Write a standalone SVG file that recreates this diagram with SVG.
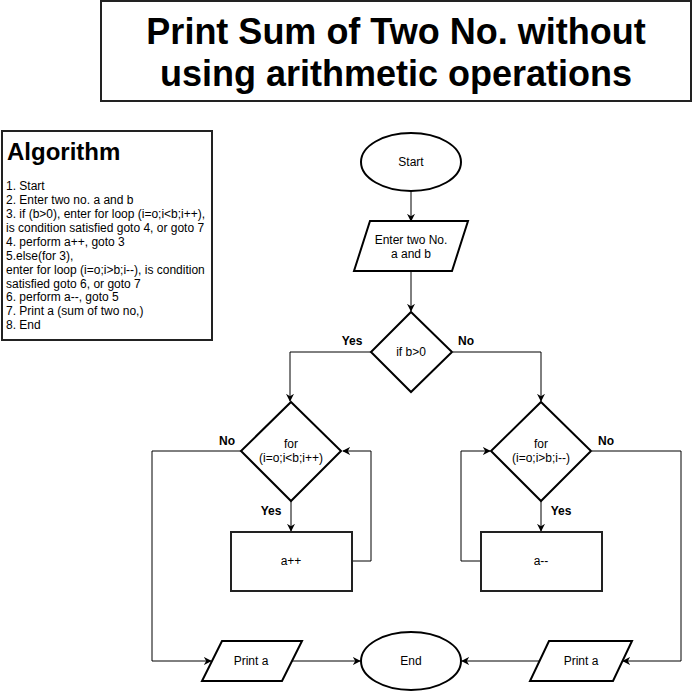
<svg xmlns="http://www.w3.org/2000/svg" width="692" height="692" viewBox="0 0 692 692">
<style>
.shape{fill:#fff;stroke:#000;stroke-width:2}
.box{fill:#fff;stroke:#222;stroke-width:2}
.t{font-family:"Liberation Sans",Arial,sans-serif;font-size:12px;fill:#000;text-anchor:middle;dominant-baseline:central}
.lbl{font-family:"Liberation Sans",Arial,sans-serif;font-size:12px;font-weight:bold;fill:#000;text-anchor:middle;dominant-baseline:central}
.ln{fill:none;stroke:#000;stroke-width:1}
.alg{font-family:"Liberation Sans",Arial,sans-serif;font-size:12px;fill:#000}
</style>
<defs>
<marker id="arr" viewBox="0 0 10 10" refX="9" refY="5" markerWidth="8" markerHeight="8" markerUnits="userSpaceOnUse" orient="auto">
<path d="M0,0 L10,5 L0,10 L3,5 Z" fill="#000"/>
</marker>
</defs>
<rect width="692" height="692" fill="#fff"/>
<g id="title">
<rect x="101" y="1" width="590" height="100" class="box"/>
<text x="396" y="31" class="t" style="font-size:36px;font-weight:bold">Print Sum of Two No. without</text>
<text x="396" y="73" class="t" style="font-size:36px;font-weight:bold">using arithmetic operations</text>
</g>
<g id="algorithm">
<rect x="2" y="131" width="210" height="209" class="box"/>
<text x="7" y="160" class="alg" style="font-size:24px;font-weight:bold">Algorithm</text>
<text x="6" y="190" class="alg">1. Start</text>
<text x="6" y="204" class="alg">2. Enter two no. a and b</text>
<text x="6" y="218" class="alg">3. if (b&gt;0), enter for loop (i=o;i&lt;b;i++),</text>
<text x="6" y="232" class="alg">is condition satisfied goto 4, or goto 7</text>
<text x="6" y="246" class="alg">4. perform a++, goto 3</text>
<text x="6" y="260" class="alg">5.else(for 3),</text>
<text x="6" y="274" class="alg">enter for loop (i=o;i&gt;b;i--), is condition</text>
<text x="6" y="288" class="alg">satisfied goto 6, or goto 7</text>
<text x="6" y="301" class="alg">6. perform a--, goto 5</text>
<text x="6" y="315" class="alg">7. Print a (sum of two no,)</text>
<text x="6" y="329" class="alg">8. End</text>
</g>
<g id="connectors">
<path d="M411,191 L411,221" class="ln" marker-end="url(#arr)"/>
<path d="M411,271 L411,311" class="ln" marker-end="url(#arr)"/>
<path d="M371,352 L290,352 L290,401" class="ln" marker-end="url(#arr)"/>
<path d="M453,352 L541,352 L541,401" class="ln" marker-end="url(#arr)"/>
<path d="M291,501 L291,531" class="ln" marker-end="url(#arr)"/>
<path d="M352,561 L371,561 L371,451 L343,451" class="ln" marker-end="url(#arr)"/>
<path d="M241,451 L152,451 L152,661 L211,661" class="ln" marker-end="url(#arr)"/>
<path d="M292,661 L360,661" class="ln" marker-end="url(#arr)"/>
<path d="M541,501 L541,531" class="ln" marker-end="url(#arr)"/>
<path d="M481,561 L461,561 L461,451 L490,451" class="ln" marker-end="url(#arr)"/>
<path d="M592,451 L681,451 L681,661 L623,661" class="ln" marker-end="url(#arr)"/>
<path d="M540,661 L462,661" class="ln" marker-end="url(#arr)"/>
<text x="352" y="341" class="lbl">Yes</text>
<text x="466" y="341" class="lbl">No</text>
<text x="227" y="441" class="lbl">No</text>
<text x="271" y="511" class="lbl">Yes</text>
<text x="606" y="441" class="lbl">No</text>
<text x="561" y="511" class="lbl">Yes</text>
</g>
<g id="start">
<ellipse cx="411" cy="162" rx="50" ry="29" class="shape"/>
<text x="411" y="162" class="t">Start</text>
</g>
<g id="input">
<polygon points="370,221 468,221 452,271 354,271" class="shape"/>
<text x="411" y="240" class="t">Enter two No.</text>
<text x="411" y="254" class="t">a and b</text>
</g>
<g id="cond">
<polygon points="411,312 452,352 411,392 371,352" class="shape"/>
<text x="411" y="352" class="t">if b&gt;0</text>
</g>
<g id="loop1">
<polygon points="291,402 341,451 291,501 241,451" class="shape"/>
<text x="291" y="444" class="t">for</text>
<text x="291" y="458" class="t">(i=o;i&lt;b;i++)</text>
</g>
<g id="inc">
<rect x="231" y="532" width="121" height="59" class="box"/>
<text x="291" y="561" class="t">a++</text>
</g>
<g id="print1">
<polygon points="222,641 302,641 282,681 202,681" class="shape"/>
<text x="251" y="661" class="t">Print a</text>
</g>
<g id="loop2">
<polygon points="541,402 591,451 541,501 491,451" class="shape"/>
<text x="541" y="444" class="t">for</text>
<text x="541" y="458" class="t">(i=o;i&gt;b;i--)</text>
</g>
<g id="dec">
<rect x="481" y="532" width="121" height="59" class="box"/>
<text x="541" y="561" class="t">a--</text>
</g>
<g id="print2">
<polygon points="549,641 632,641 613,681 530,681" class="shape"/>
<text x="581" y="661" class="t">Print a</text>
</g>
<g id="end">
<ellipse cx="411" cy="661" rx="50" ry="29" class="shape"/>
<text x="411" y="661" class="t">End</text>
</g>
</svg>
